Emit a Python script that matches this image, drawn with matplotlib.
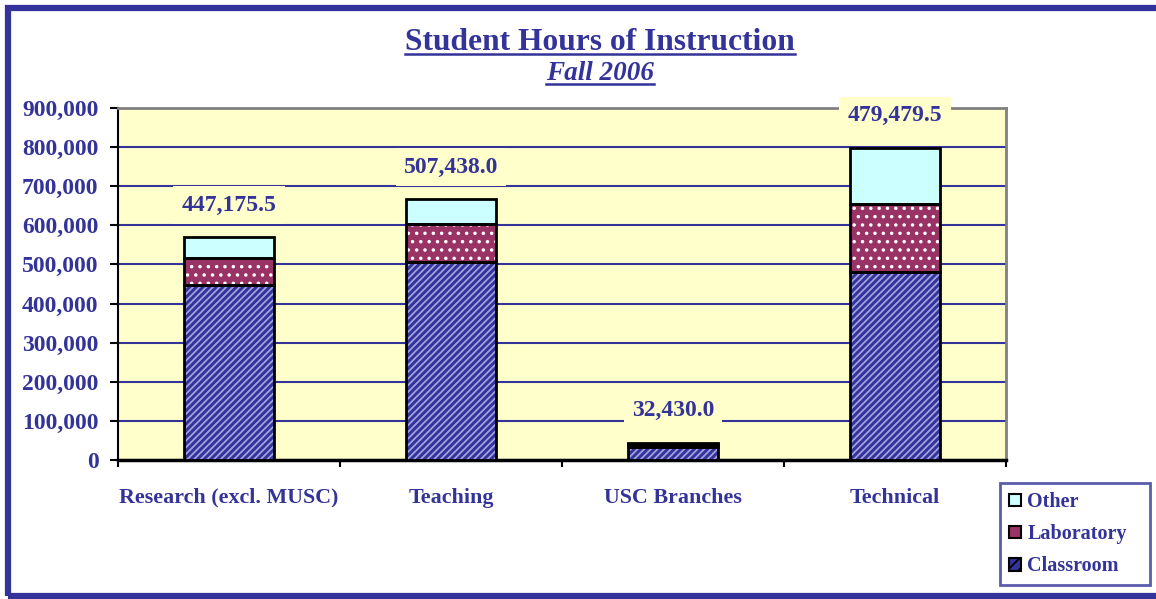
import numpy as np
import matplotlib.pyplot as plt
from matplotlib.patches import Rectangle
from matplotlib.lines import Line2D

# data
categories = ["Research (excl. MUSC)", "Teaching", "USC Branches", "Technical"]
classroom = [447175.5, 507438.0, 32430.0, 479479.5]
laboratory = [70000, 97000, 8000, 176000]
other = [53000, 63000, 3500, 143000]
labels = ["447,175.5", "507,438.0", "32,430.0", "479,479.5"]
yticks = [0, 100000, 200000, 300000, 400000, 500000, 600000, 700000, 800000, 900000]

navy = "#333399"
plot_bg = "#FFFFCC"
plt.rcParams["font.family"] = ["Liberation Serif", "DejaVu Serif"]
plt.rcParams["font.weight"] = "bold"
plt.rcParams["hatch.linewidth"] = 1.3

fig = plt.figure(figsize=(11.56, 5.99), dpi=100)
ax = fig.add_axes([118/1156, 1 - 460/599, 888/1156, 352/599])
ax.set_facecolor(plot_bg)

x = np.arange(len(categories))
w = 0.405
cl = np.array(classroom)
lab = np.array(laboratory)
oth = np.array(other)

#* hatch colour follows edgecolor, so draw fills first then black outlines
series = [
    (cl, 0, navy, "#a0a0e0", "/////", "Classroom"),
    (lab, cl, "#993366", "#ffffff", "..", "Laboratory"),
    (oth, cl + lab, "#CCFFFF", "#CCFFFF", None, "Other"),
]
for vals, bot, fc, hc, hatch, name in series:
    ax.bar(x, vals, w, bottom=bot, color=fc, edgecolor=hc, hatch=hatch, linewidth=0, zorder=3)
    ax.bar(x, vals, w, bottom=bot, fill=False, edgecolor="black", linewidth=2, zorder=4)

ax.set_xlim(-0.5, len(categories) - 0.5)
ax.set_ylim(0, 900000)
ax.set_yticks(yticks)
ax.set_yticklabels([f"{v:,}" for v in yticks], color=navy, fontsize=17, fontweight="bold")
ax.yaxis.grid(True, color=navy, linewidth=1.5, zorder=1)
ax.set_axisbelow(True)
ax.tick_params(axis="y", direction="out", length=6, width=1.5, color="black", pad=8)

ax.set_xticks(np.arange(len(categories) + 1) - 0.5)
ax.set_xticklabels([])
ax.tick_params(axis="x", direction="out", length=5, width=1.5, color="black")
ax.set_xticks(x, minor=True)
ax.set_xticklabels(categories, minor=True, color=navy, fontsize=15.8, fontweight="bold")
ax.tick_params(axis="x", which="minor", length=0, pad=20)

ax.spines["left"].set_color("black")
ax.spines["left"].set_linewidth(1.5)
ax.spines["bottom"].set_color("black")
ax.spines["bottom"].set_linewidth(2.5)
ax.spines["top"].set_color("#808080")
ax.spines["top"].set_linewidth(2)
ax.spines["right"].set_color("#808080")
ax.spines["right"].set_linewidth(2)

totals = cl + lab + oth
for xi, t, s in zip(x, totals, labels):
    ax.annotate(s, (xi, t), xytext=(0, 23), textcoords="offset points", ha="center", va="center",
                fontsize=17, fontweight="bold", color=navy, zorder=6, annotation_clip=False,
                bbox=dict(facecolor=plot_bg, edgecolor="none", pad=6))

# titles with underline
t1 = fig.text(600/1156, 1 - 42/599, "Student Hours of Instruction", ha="center", va="center",
              fontsize=22.7, fontweight="bold", color=navy)
t2 = fig.text(600/1156, 1 - 74/599, "Fall 2006", ha="center", va="center",
              fontsize=19.5, fontweight="bold", style="italic", color=navy)
fig.canvas.draw()
r = fig.canvas.get_renderer()
for t in (t1, t2):
    bb = t.get_window_extent(r).transformed(fig.transFigure.inverted())
    fig.add_artist(Line2D([bb.x0, bb.x1], [bb.y0 + 0.004, bb.y0 + 0.004], color=navy, lw=1.8,
                          transform=fig.transFigure))

# legend
handles = [
    Rectangle((0, 0), 1, 1, facecolor="#CCFFFF", edgecolor="black", linewidth=1.5),
    Rectangle((0, 0), 1, 1, facecolor="#993366", edgecolor="black", linewidth=1.5),
    Rectangle((0, 0), 1, 1, facecolor=navy, edgecolor="black", linewidth=1.5, hatch="///"),
]
leg = fig.legend(handles, ["Other", "Laboratory", "Classroom"], loc="upper left",
                 bbox_to_anchor=(1000/1156, 1 - 579/599, 150/1156, 96/599), mode="expand",
                 frameon=True, fancybox=False,
                 handlelength=0.6, handleheight=0.6, handletextpad=0.3, labelspacing=0.6,
                 borderpad=0.45, prop=dict(size=14.5, weight="bold"), borderaxespad=0)
leg.get_frame().set_edgecolor(navy)
leg.get_frame().set_linewidth(2)
for txt in leg.get_texts():
    txt.set_color(navy)

# outer frame (right side runs off the image)
fig.add_artist(Rectangle((8/1156, 3/599), 1160/1156, 588/599, fill=False, edgecolor=navy,
                         linewidth=4.5, transform=fig.transFigure, clip_on=False))

fig.savefig("out.png", dpi=100)
